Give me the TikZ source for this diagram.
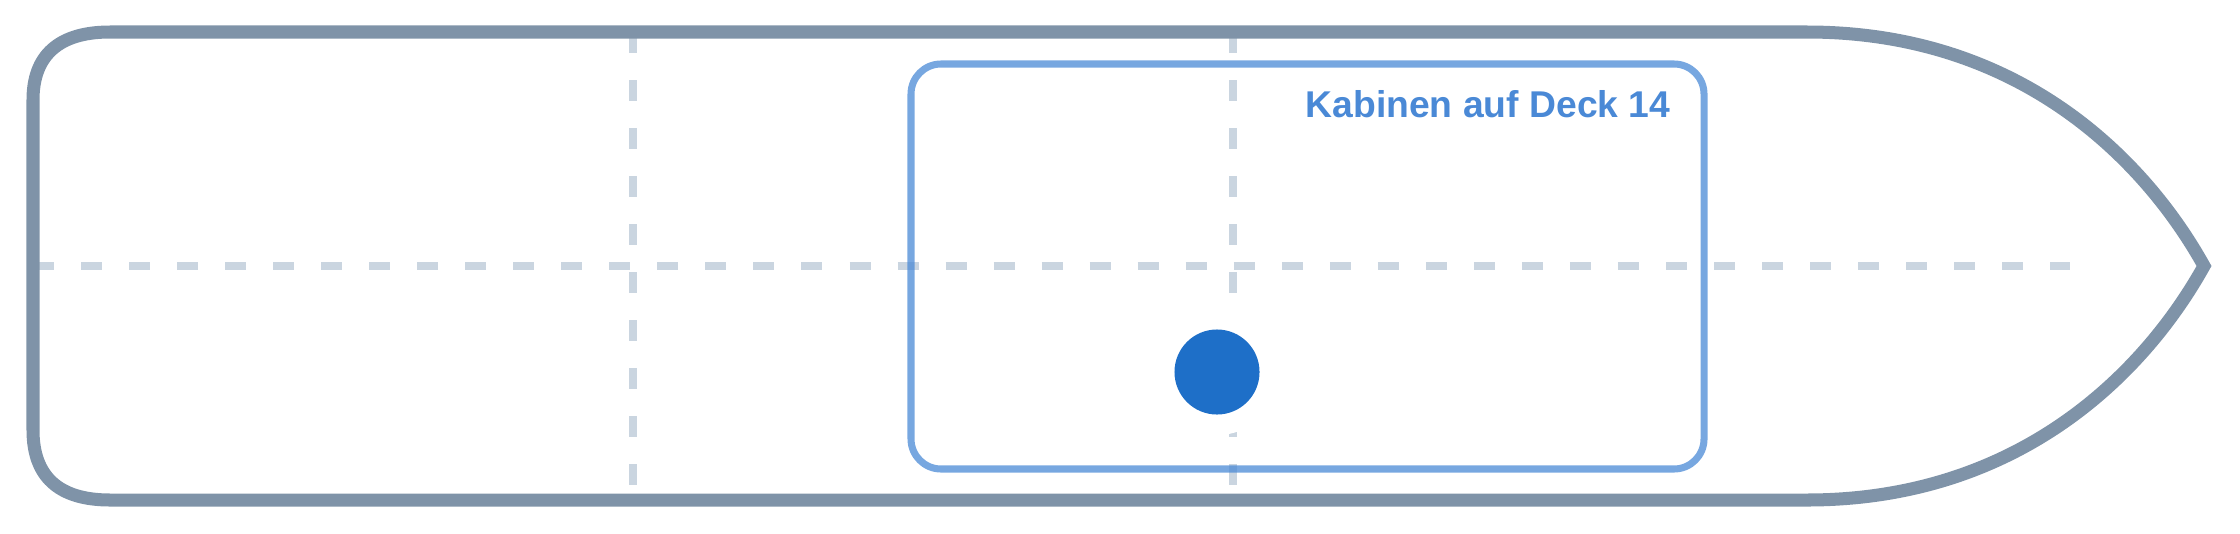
\documentclass[tikz,border=0pt]{standalone}
\usepackage{fontspec}
\setmainfont{Liberation Sans}

\definecolor{hullgray}{HTML}{7F93A8}
\definecolor{gridgray}{HTML}{CAD5E0}
\definecolor{deckblue}{HTML}{4A89D6}
\definecolor{cabinblue}{HTML}{1E6FC8}

\tikzset{
	gridline/.style={draw=gridgray, line width=2.3pt, dash pattern=on 0.21cm off 0.27cm},
	hull/.style={draw=hullgray, line width=3.7pt, line join=miter},
	deckbox/.style={draw=deckblue, draw opacity=0.75, line width=2pt, rounded corners=0.3cm},
}

\begin{document}
\begin{tikzpicture}[x=0.01cm, y=-0.01cm]
	\useasboundingbox (0,0) rectangle (2240,533);

	% centre line and frames
	\draw[gridline] (33,266) -- (2070,266);
	\draw[gridline] (633,32) -- (633,500);
	\draw[gridline] (1233,32) -- (1233,500);

	% deck area
	\draw[deckbox] (911,64) rectangle (1704,469);
	\node[anchor=base east, inner sep=0, text=deckblue, font=\bfseries\fontsize{10.6}{12}\selectfont] (decklabel) at (1671,117) {Kabinen auf Deck 14};

	% hull
	\draw[hull] (110,32) -- (1807,32)
		.. controls (2020,32) and (2145,160) .. (2204,266)
		.. controls (2145,372) and (2020,500) .. (1807,500)
		-- (110,500)
		.. controls (58,500) and (33,476) .. (33,430)
		-- (33,100)
		.. controls (33,56) and (58,32) .. cycle;

	% cabin position
	\fill[white] (1217,372) circle (0.63cm);
	\node[circle, fill=cabinblue, inner sep=0, minimum size=0.85cm] (cabin) at (1217,372) {};
\end{tikzpicture}
\end{document}
